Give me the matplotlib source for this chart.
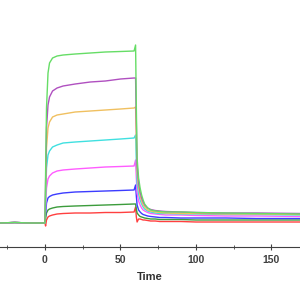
import matplotlib
matplotlib.use('Agg')
import numpy as np
import matplotlib.pyplot as plt

plt.rcParams['font.family'] = ['Liberation Sans', 'DejaVu Sans']

# time points (s)
t = [-30, -20, -10, -2, 0, 0.4, 1, 2, 3, 5, 8, 12, 20, 30, 40, 50, 59, 60, 60.5,
     61, 62, 63, 64, 65, 66, 68, 70, 73, 76, 80, 90, 100, 120, 140, 170]

pre = [0, 0.5, 0, 0, 0]
green = pre + [50, 115, 150, 160, 165, 167, 168, 169, 170, 171, 171.5, 172, 178, 115,
               65, 45, 35, 28, 23, 19, 15, 13, 12, 11.5, 11, 11, 10.5, 10, 9.5, 9]
purple = pre + [40, 95, 118, 126, 132, 135, 137, 139, 141, 142, 144, 145, 145, 100,
                58, 40, 31, 25, 21, 18, 15, 13.5, 12.5, 12, 11.5, 11, 10.5, 10, 10, 9.5]
orange = pre + [30, 75, 95, 101, 106, 108, 109, 111, 112, 113, 114, 115, 116, 82,
                50, 35, 27, 22, 18, 16, 13, 12, 11, 10.5, 10, 9.5, 9.5, 9, 9, 8.5]
cyan = pre + [22, 55, 68, 72, 76, 78, 80, 81, 82, 83, 84, 85, 88, 62,
              40, 29, 23, 19, 16, 14, 12, 11, 10, 9.5, 9.5, 9, 9, 8.5, 8.5, 8]
magenta = pre + [15, 35, 44, 47, 50, 52, 53, 54, 55, 56, 56.5, 57, 63, 45,
                 30, 22, 18, 15, 13, 12, 10.5, 9.5, 9, 8.5, 8, 8, 7.5, 7, 7, 6.5]
blue = pre + [8, 20, 25, 26.5, 28, 29, 30, 31, 31.5, 32, 32.5, 33, 38, 27,
              18, 13, 11, 9.5, 8.5, 8, 7, 6.5, 6, 5.5, 5.5, 5, 5, 5, 4.5, 4.5]
dkgreen = pre + [5, 10, 13, 14, 15, 16, 16.5, 17, 17.5, 18, 18.5, 19, 19, 14,
                 10, 8, 6.5, 6, 5.5, 5, 4.5, 4, 4, 3.5, 3.5, 3.5, 3, 3, 3, 3]
red = pre + [-3, 3, 6, 7, 8, 9, 9.5, 10, 10, 10.5, 10.5, 11, 16, 6,
             1, 4, 4, 3.5, 3, 3, 2.5, 2, 2, 1.5, 1.5, 1.5, 1, 1, 1, 1]

series = [(red, '#ff4040'), (dkgreen, '#3c9c3c'), (blue, '#3c3cff'),
          (magenta, '#ff5cff'), (cyan, '#40e0e0'), (orange, '#f0c060'),
          (purple, '#b050c0'), (green, '#66dd66')]

fig = plt.figure(figsize=(3, 3), dpi=100)
ax = fig.add_axes([0, 53 / 300, 1, 247 / 300])
for y, c in series:
    ax.plot(t, y, color=c, lw=1)

ax.set_xlim(-29.8, 168.9)
ax.set_ylim(-24, 223)
for s in ['top', 'left', 'right']:
    ax.spines[s].set_visible(False)
ax.spines['bottom'].set_color('#404040')
ax.set_yticks([])
ax.set_xticks([0, 50, 100, 150])
ax.set_xticks([-25, 25, 75, 125], minor=True)
ax.tick_params(axis='x', which='major', direction='inout', length=5, color='#404040',
               labelsize=7.5, labelcolor='#404040', pad=3)
ax.tick_params(axis='x', which='minor', direction='inout', length=3, color='#404040')
for lab in ax.get_xticklabels():
    lab.set_fontweight('bold')
ax.set_xlabel('Time', fontsize=8, fontweight='bold', color='#303030', labelpad=5)

fig.savefig('out.png', dpi=100)
